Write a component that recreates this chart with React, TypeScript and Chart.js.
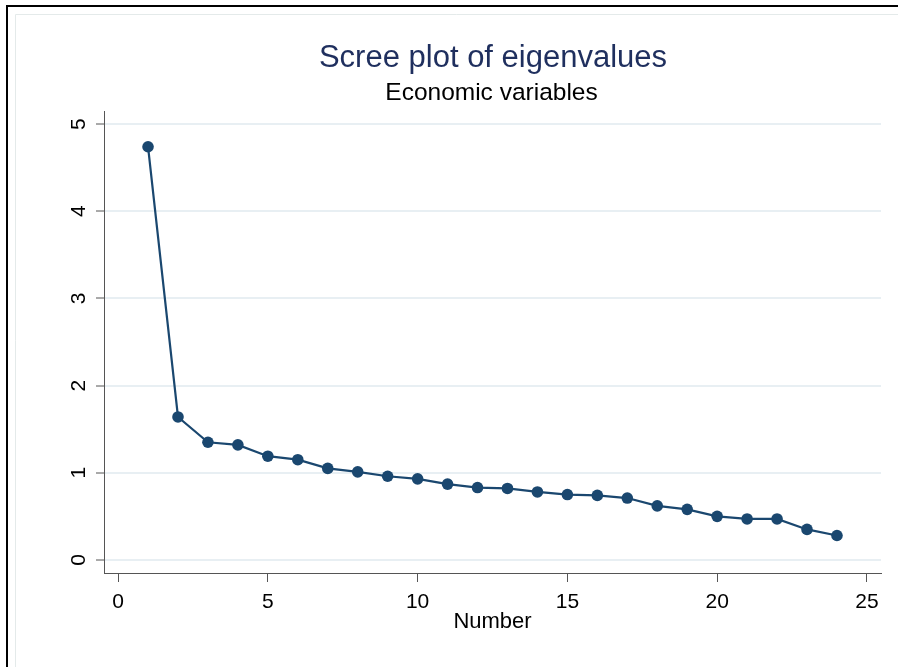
import React, { useEffect, useRef } from "react";
import { Chart, registerables } from "chart.js";

Chart.register(...registerables);

// ---- data ----
const componentNumbers = [1, 2, 3, 4, 5, 6, 7, 8, 9, 10, 11, 12, 13, 14, 15, 16, 17, 18, 19, 20, 21, 22, 23, 24];
const eigenvalues = [4.74, 1.64, 1.35, 1.32, 1.19, 1.15, 1.05, 1.01, 0.96, 0.93, 0.87, 0.83, 0.82, 0.78, 0.75, 0.74, 0.71, 0.62, 0.58, 0.5, 0.47, 0.47, 0.35, 0.28];
const xTickValues = [0, 5, 10, 15, 20, 25];
const yTickValues = [0, 1, 2, 3, 4, 5];
const titleText = "Scree plot of eigenvalues";
const subtitleText = "Economic variables";
const xAxisTitle = "Number";

const W = 898;
const H = 667;
const FONT = "'Liberation Sans', Arial, Helvetica, sans-serif";
const NAVY = "#1a476f";
const AXIS = "#555555";

const framePlugin = {
  id: "frame",
  beforeDraw(chart: any) {
    const ctx = chart.ctx;
    ctx.save();
    ctx.fillStyle = "#ffffff";
    ctx.fillRect(0, 0, chart.width, chart.height);
    // outer black frame (left + top visible)
    ctx.fillStyle = "#000000";
    ctx.fillRect(6, 5, 2, chart.height);
    ctx.fillRect(6, 5, chart.width, 2);
    // inner light frame
    ctx.strokeStyle = "#e4eaea";
    ctx.lineWidth = 1;
    ctx.beginPath();
    ctx.moveTo(15.5, chart.height);
    ctx.lineTo(15.5, 14.5);
    ctx.lineTo(chart.width, 14.5);
    ctx.stroke();
    ctx.restore();
  },
};

// Titles centred over the plot region (as in the reference)
const titlesPlugin = {
  id: "stataTitles",
  afterDraw(chart: any) {
    const { ctx, chartArea } = chart;
    const cx = (chartArea.left + chartArea.right) / 2;
    ctx.save();
    ctx.textAlign = "center";
    ctx.textBaseline = "alphabetic";
    ctx.fillStyle = "#1f2f5e";
    ctx.font = `31px ${FONT}`;
    ctx.fillText(titleText, cx + 0.5, 67);
    ctx.fillStyle = "#000000";
    ctx.font = `24.5px ${FONT}`;
    ctx.fillText(subtitleText, cx - 1, 100);
    ctx.restore();
  },
};

export default function App() {
  const ref = useRef<HTMLCanvasElement | null>(null);

  useEffect(() => {
    const canvas = ref.current;
    if (!canvas) return;
    Chart.defaults.font.family = FONT;
    const chart = new Chart(canvas, {
      type: "line",
      data: {
        datasets: [
          {
            data: componentNumbers.map((x, i) => ({ x, y: eigenvalues[i] })),
            borderColor: NAVY,
            backgroundColor: NAVY,
            borderWidth: 2.2,
            pointRadius: 5.8,
            pointBorderWidth: 0,
            pointBackgroundColor: NAVY,
            tension: 0,
          },
        ],
      },
      options: {
        animation: false,
        responsive: false,
        layout: { padding: { left: 0, right: 17, top: 111, bottom: 0 } },
        plugins: {
          legend: { display: false },
          tooltip: { enabled: false },
          title: { display: false },
          subtitle: { display: false },
        },
        scales: {
          x: {
            type: "linear",
            min: -0.47,
            max: 25.47,
            afterBuildTicks: (s: any) => {
              s.ticks = xTickValues.map((v) => ({ value: v }));
            },
            afterFit: (s: any) => {
              s.height = H - 573;
            },
            grid: {
              drawOnChartArea: false,
              drawTicks: true,
              tickLength: 9,
              tickColor: AXIS,
              tickWidth: 1,
            },
            border: { display: true, color: AXIS, width: 1 },
            ticks: {
              color: "#000000",
              font: { family: FONT, size: 21 },
              padding: 8,
              maxRotation: 0,
              autoSkip: false,
            },
            title: {
              display: true,
              text: xAxisTitle,
              color: "#000000",
              font: { family: FONT, size: 22 },
              padding: { top: 0, bottom: 32 },
            },
          },
          y: {
            type: "linear",
            min: -0.15,
            max: 5.15,
            afterBuildTicks: (s: any) => {
              s.ticks = yTickValues.map((v) => ({ value: v }));
            },
            afterFit: (s: any) => {
              s.width = 104;
            },
            grid: {
              color: "#e8eff3",
              lineWidth: 2,
              drawTicks: true,
              tickLength: 8,
              tickColor: AXIS,
              tickWidth: 1,
            },
            border: { display: true, color: AXIS, width: 1 },
            ticks: {
              color: "#000000",
              font: { family: FONT, size: 21 },
              minRotation: 90,
              maxRotation: 90,
              crossAlign: "center",
              padding: 11,
              autoSkip: false,
            },
          },
        },
      },
      plugins: [framePlugin, titlesPlugin],
    } as any);
    return () => chart.destroy();
  }, []);

  return (
    <div style={{ position: "fixed", left: 0, top: 0, width: W, height: H, background: "#fff" }}>
      <canvas ref={ref} width={W} height={H} style={{ display: "block" }} />
    </div>
  );
}
